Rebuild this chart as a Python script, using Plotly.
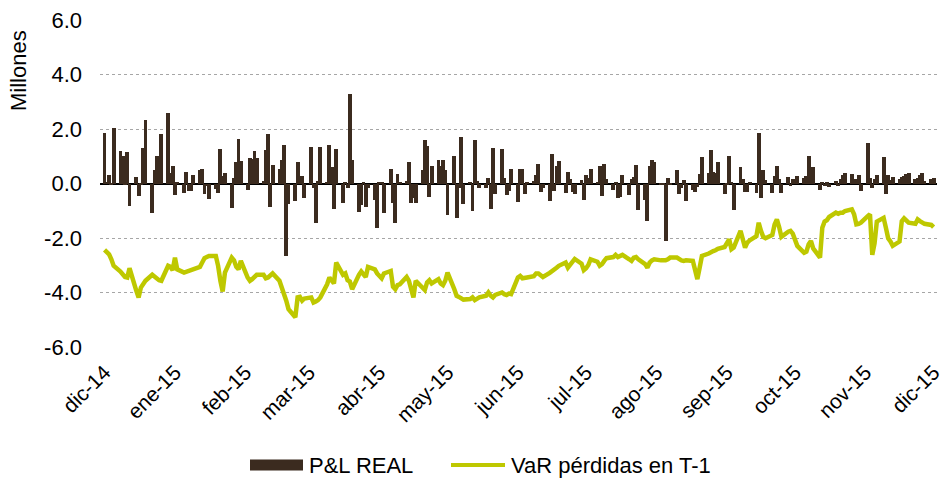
import pandas as pd
import plotly.graph_objects as go

pnl_real = [
    # dic-14 / ene-15
    1.85, 0.05, 0.33, -0.05, 2.04, 1.18, 1.0, -0.05, 1.16, -0.84, 0.24, -0.46, -0.05, 1.3, 2.34, -1.07, 0.5,
    1.02, 0.05, 1.8, 2.6, 0.4, 0.66, -0.44, 0.05, -0.34, 0.41, -0.28, -0.26, 0.33, 0.48, 0.54, -0.37,
    # ene-15 / mar-15
    -0.1, -0.56, -0.2, -0.34, 1.27, 0.27, 0.39, -0.9, 0.2, 0.8, 1.65, 0.82, -0.22, 0.92, 0.9, 1.18, 0.92,
    0.08, 1.24, 1.83, -0.85, 0.67, 0.55, 0.87, 1.43, -2.66, -0.77, -0.65, 0.78, 0.05, 0.28, -0.52, 1.35,
    # mar-15 / may-15
    -0.18, -1.46, 0.08, 1.34, 0.05, 1.4, 0.6, -0.95, 1.27, -0.73, 0.05, -0.16, 3.29, 0.88, -1.05, -0.79, 0.05,
    -0.85, -0.16, -0.6, -1.65, 0.05, 0.05, -1.1, 0.55, -0.73, -1.46, 0.35, 0.05, 0.08, 0.78, -0.7, -0.52,
    # may-15 / jun-15
    -0.73, 0.51, 1.59, 1.37, -0.5, 0.63, 0.88, 0.63, 0.88, 0.48, -1.16, 1.0, -1.26, -0.18, 1.7, -0.77, 0.03,
    -1.01, 1.6, 0.08, -0.18, -0.18, 0.2, -0.95, 1.3, -0.37, 1.28, 0.2, -0.43, -0.28, 0.55, -0.68, 0.55,
    # jun-15 / ago-15
    0.55, -0.4, 0.05, 0.08, 0.33, 0.73, -0.3, -0.16, -0.65, 1.09, -0.28, 0.66, 0.84, -0.34, 0.41, 0.18, -0.32,
    -0.37, 0.12, -0.61, 0.33, 0.2, 0.54, 0.03, 0.63, -0.46, 0.72, 0.15, -0.22, 0.05, -0.52, -0.5, 0.3,
    # ago-15 / sep-15
    -0.44, 0.15, 0.24, 0.67, -0.99, -0.59, -1.38, 0.63, 0.87, 0.78, -0.07, -0.07, -2.11, 0.2, -0.06, 0.51, -0.37,
    -0.15, 0.12, -0.65, -0.22, -0.3, -0.12, 0.35, 0.96, 0.39, 1.22, 0.43, 0.39, 0.78, -0.37, -0.05, 1.02,
    # sep-15 / nov-15
    0.06, -0.99, 0.6, 0.18, -0.3, -0.3, 0.05, -0.34, 1.85, -0.55, 0.51, 0.12, -0.34, 0.27, 0.63, 0.18, -0.34,
    0.24, -0.1, 0.18, 0.05, 0.27, 0.2, 0.27, 1.0, 0.03, 0.62, -0.22, 0.03, -0.1, 0.05, -0.12, 0.08,
    # nov-15 / dic-15
    -0.1, 0.17, 0.33, 0.39, 0.35, 0.08, 0.18, 0.3, -0.26, 1.47, 0.2, -0.18, 0.15, 0.3, 0.98, -0.4,
    0.33, 0.12, 0.23, 0.15, 0.24, 0.26, 0.35, 0.37, 0.15, 0.2, 0.33, 0.37, 0.08, 0.18, 0.2,
]

var_t1 = [
    -2.44, -2.50, -2.60, -2.78, -3.02, -3.23, -3.35, -3.43, -3.45, -3.11, -3.94, -4.18, -3.82, -3.67, -3.57,
    -3.35, -3.43, -3.51, -3.55, -3.57, -3.02, -3.06, -3.18, -2.72, -3.15, -3.27, -3.24, -3.23, -3.21, -3.15,
    -3.06, -2.90, -2.74,
    -2.70, -2.66, -2.66, -3.02, -3.57, -3.96, -3.27, -2.72, -2.82, -3.06, -3.15, -2.84, -3.45, -3.57, -3.51,
    -3.43, -3.35, -3.35, -3.48, -3.45, -3.35, -3.30, -3.57, -3.79, -4.04, -4.30, -4.61, -4.91, -4.18, -4.16,
    -4.30, -4.22, -4.18,
    -4.37, -4.33, -4.28, -4.18, -3.70, -3.45, -3.55, -3.67, -2.90, -3.35, -3.30, -3.55, -3.60, -3.88, -3.35,
    -3.23, -3.33, -3.43, -3.06, -3.15, -3.30, -3.40, -3.48, -3.30, -3.21, -3.79, -3.88, -3.73, -3.70, -3.43,
    -3.57, -3.88, -4.18,
    -3.57, -3.85, -3.91, -3.63, -3.55, -3.67, -3.51, -3.67, -3.73, -3.57, -3.27, -3.88, -4.12, -4.16, -4.22,
    -4.26, -4.24, -4.18, -4.28, -4.24, -4.18, -4.12, -4.00, -4.12, -4.18, -4.09, -4.00, -4.06, -4.09, -4.04,
    -4.06, -3.45, -3.39,
    -3.48, -3.48, -3.45, -3.40, -3.30, -3.30, -3.35, -3.43, -3.28, -3.23, -3.18, -3.09, -3.02, -2.90, -3.09,
    -2.96, -2.84, -2.77, -2.94, -3.18, -3.11, -2.99, -2.78, -2.87, -3.02, -2.96, -2.84, -2.74, -2.70, -2.62,
    -2.70, -2.65, -2.62,
    -2.78, -2.84, -2.72, -2.70, -2.78, -2.96, -3.09, -2.90, -2.82, -2.78, -2.82, -2.84, -2.82, -2.78, -2.72,
    -2.72, -2.78, -2.82, -2.84, -2.82, -2.84, -3.21, -3.51, -3.09, -2.66, -2.57, -2.50, -2.48, -2.45, -2.40,
    -2.33, -2.17, -2.05,
    -2.41, -2.35, -1.74, -2.11, -2.35, -2.17, -2.09, -1.93, -1.44, -1.74, -1.96, -2.01, -1.89, -1.50, -1.32,
    -1.60, -1.96, -1.77, -1.74, -1.84, -2.05, -2.29, -2.54, -2.50, -2.23, -2.11, -2.38, -2.72, -1.62, -1.40,
    -1.35, -1.23, -1.07,
    -1.11, -1.07, -1.07, -1.01, -0.95, -1.13, -1.50, -1.48, -1.44, -1.20, -1.13, -2.62, -2.20, -1.40, -1.26,
    -1.62, -2.01, -2.13, -2.29, -2.13, -1.38, -1.28, -1.35, -1.44, -1.48, -1.32, -1.38, -1.44, -1.48, -1.52,
    -1.60,
]

month_ticks = ["2014-12-01", "2015-01-01", "2015-02-01", "2015-03-01", "2015-04-01", "2015-05-01",
               "2015-06-01", "2015-07-01", "2015-08-01", "2015-09-01", "2015-10-01", "2015-11-01",
               "2015-12-01"]
month_labels = ["dic-14", "ene-15", "feb-15", "mar-15", "abr-15", "may-15", "jun-15", "jul-15",
                "ago-15", "sep-15", "oct-15", "nov-15", "dic-15"]
y_ticks = [-6, -4, -2, 0, 2, 4, 6]
y_labels = ["-6.0", "-4.0", "-2.0", "0.0", "2.0", "4.0", "6.0"]

BAR_COLOR = "#3b2b1f"
LINE_COLOR = "#bec800"
FONT = "Liberation Sans, Arial, sans-serif"

dates = pd.bdate_range("2014-12-01", periods=len(pnl_real))

W, H = 944, 478
L, R, T, B = 100, 7, 20, 131
pw, ph = W - L - R, H - T - B


def px(x):
    return (x - L) / pw


def py(y):
    return (H - B - y) / ph


fig = go.Figure()
fig.add_trace(go.Bar(
    x=dates, y=pnl_real, name="P&L REAL",
    marker=dict(color=BAR_COLOR, line=dict(width=0)),
    width=86400000 * 1.7, showlegend=False,
))
fig.add_trace(go.Scatter(
    x=dates, y=var_t1, name="VaR pérdidas en T-1", mode="lines",
    line=dict(color=LINE_COLOR, width=4.5), showlegend=False,
))

legend_y = 465
shapes = [
    dict(type="rect", xref="paper", yref="paper", x0=px(250), x1=px(303),
         y0=py(legend_y + 5.5), y1=py(legend_y - 5.5), fillcolor=BAR_COLOR, line=dict(width=0)),
    dict(type="line", xref="paper", yref="paper", x0=px(451), x1=px(505),
         y0=py(legend_y), y1=py(legend_y), line=dict(color=LINE_COLOR, width=4)),
]
annotations = [
    dict(text="Millones", textangle=-90, xref="paper", yref="paper",
         x=px(19), y=py(71), xanchor="center", yanchor="middle", showarrow=False,
         font=dict(size=22)),
    dict(text="P&L REAL", xref="paper", yref="paper", x=px(307), y=py(legend_y),
         xanchor="left", yanchor="middle", showarrow=False, font=dict(size=22)),
    dict(text="VaR pérdidas en T-1", xref="paper", yref="paper", x=px(509), y=py(legend_y),
         xanchor="left", yanchor="middle", showarrow=False, font=dict(size=22)),
]

fig.update_layout(
    width=W, height=H,
    margin=dict(l=L, r=R, t=T, b=B, autoexpand=False),
    paper_bgcolor="white", plot_bgcolor="white",
    font=dict(family=FONT, size=21, color="#000000"),
    showlegend=False,
    bargap=0,
    shapes=shapes,
    annotations=annotations,
)
fig.update_xaxes(
    type="date", range=["2014-11-29 00:00", "2015-12-02 12:00"],
    tickvals=month_ticks, ticktext=month_labels, tickangle=-45,
    showgrid=False, zeroline=False, showline=False, ticks="",
    tickfont=dict(size=21), automargin=False, ticklabeloverflow="allow",
    ticklabelstandoff=8,
)
fig.update_yaxes(
    range=[-6, 6], tickvals=y_ticks, ticktext=y_labels,
    showgrid=True, gridcolor="#a6a6a6", griddash="dot", gridwidth=1,
    zeroline=True, zerolinecolor="#000000", zerolinewidth=1.5,
    showline=False, ticks="", ticklabelstandoff=17, tickfont=dict(size=22),
    automargin=False,
)

fig.write_html("out.html", config={"displayModeBar": False},
               post_script="document.body.style.margin='0px';")
